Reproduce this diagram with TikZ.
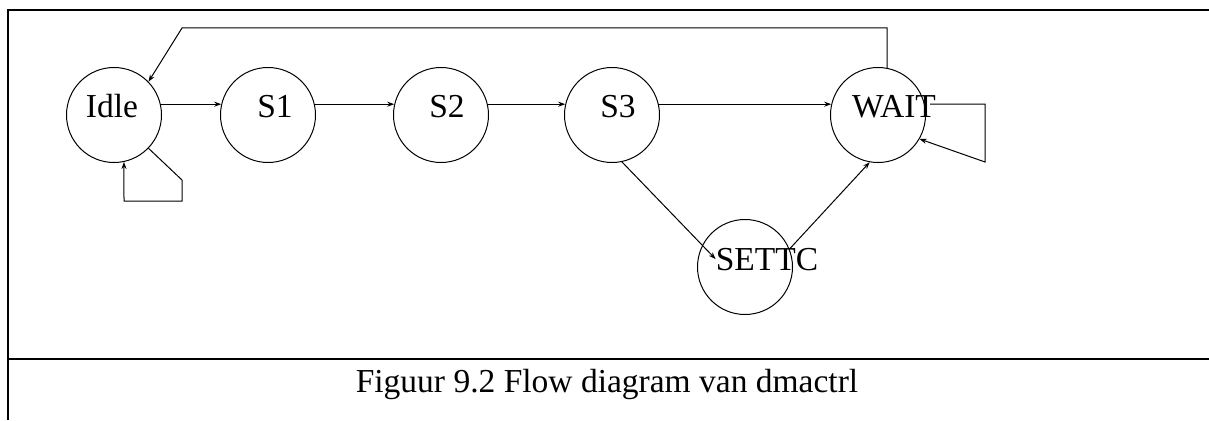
\documentclass[tikz,border=0pt]{standalone}
\usepackage{fontspec}
\setmainfont{Liberation Serif}
\usetikzlibrary{arrows.meta}
\begin{document}
\begin{tikzpicture}[x=1pt,y=-1pt,
  state/.style={draw,circle,minimum size=95pt,inner sep=0pt,line width=1pt},
  lbl/.style={anchor=base,inner sep=0pt,font=\fontsize{33.5}{40}\selectfont},
  conn/.style={line width=1pt,-{Stealth[length=7pt,width=5pt]}},
  frame/.style={line width=1.8pt}]
\useasboundingbox (0,0) rectangle (1209,420);
% frame
\coordinate (ftl) at (8,10);
\coordinate (ftr) at (1209,10);
\coordinate (fbl) at (8,420);
\coordinate (fsl) at (8,359);
\coordinate (fsr) at (1209,359);
\draw[frame] (fbl) -- (ftl) -- (ftr);
\draw[frame] (fsl) -- (fsr);
% states
\node[state] (idle) at (114,115) {};
\node[state] (s1) at (268,115) {};
\node[state] (s2) at (441,115) {};
\node[state] (s3) at (612,115) {};
\node[state] (wait) at (878,115) {};
\node[state] (settc) at (745,267) {};
% labels
\node[lbl] (idlet) at (112,117) {Idle};
\node[lbl] (s1t) at (275,117) {S1};
\node[lbl] (s2t) at (447,117) {S2};
\node[lbl] (s3t) at (618,117) {S3};
\node[lbl] (waitt) at (894,117) {WAIT};
\node[lbl] (settct) at (767,270) {SETTC};
% main chain
\draw[conn] (idle.13) -- (s1.167);
\draw[conn] (s1.13) -- (s2.167);
\draw[conn] (s2.13) -- (s3.167);
\draw[conn] (s3.13) -- (wait.167);
% to/from SETTC
\draw[conn] (s3.-78) -- (settct.west);
\draw[conn] (settc.22) -- (wait.-100);
% return to Idle
\coordinate (tl) at (182,28);
\draw[conn] (wait.79) |- (tl) -- (idle.44);
% Idle self loop
\coordinate (il1) at (182,180);
\coordinate (il2) at (182,201);
\coordinate (il3) at (124,201);
\draw[conn] (idle.-44) -- (il1) -- (il2) -- (il3) -- (idle.-78);
% WAIT self loop
\coordinate (wl0) at (930,104);
\coordinate (wl1) at (985,104);
\coordinate (wl2) at (985,162);
\draw[conn] (wl0) -- (wl1) -- (wl2) -- (wait.-30);
% caption
\node[lbl] (cap) at (607,392) {Figuur 9.2 Flow diagram van dmactrl};
\end{tikzpicture}
\end{document}
